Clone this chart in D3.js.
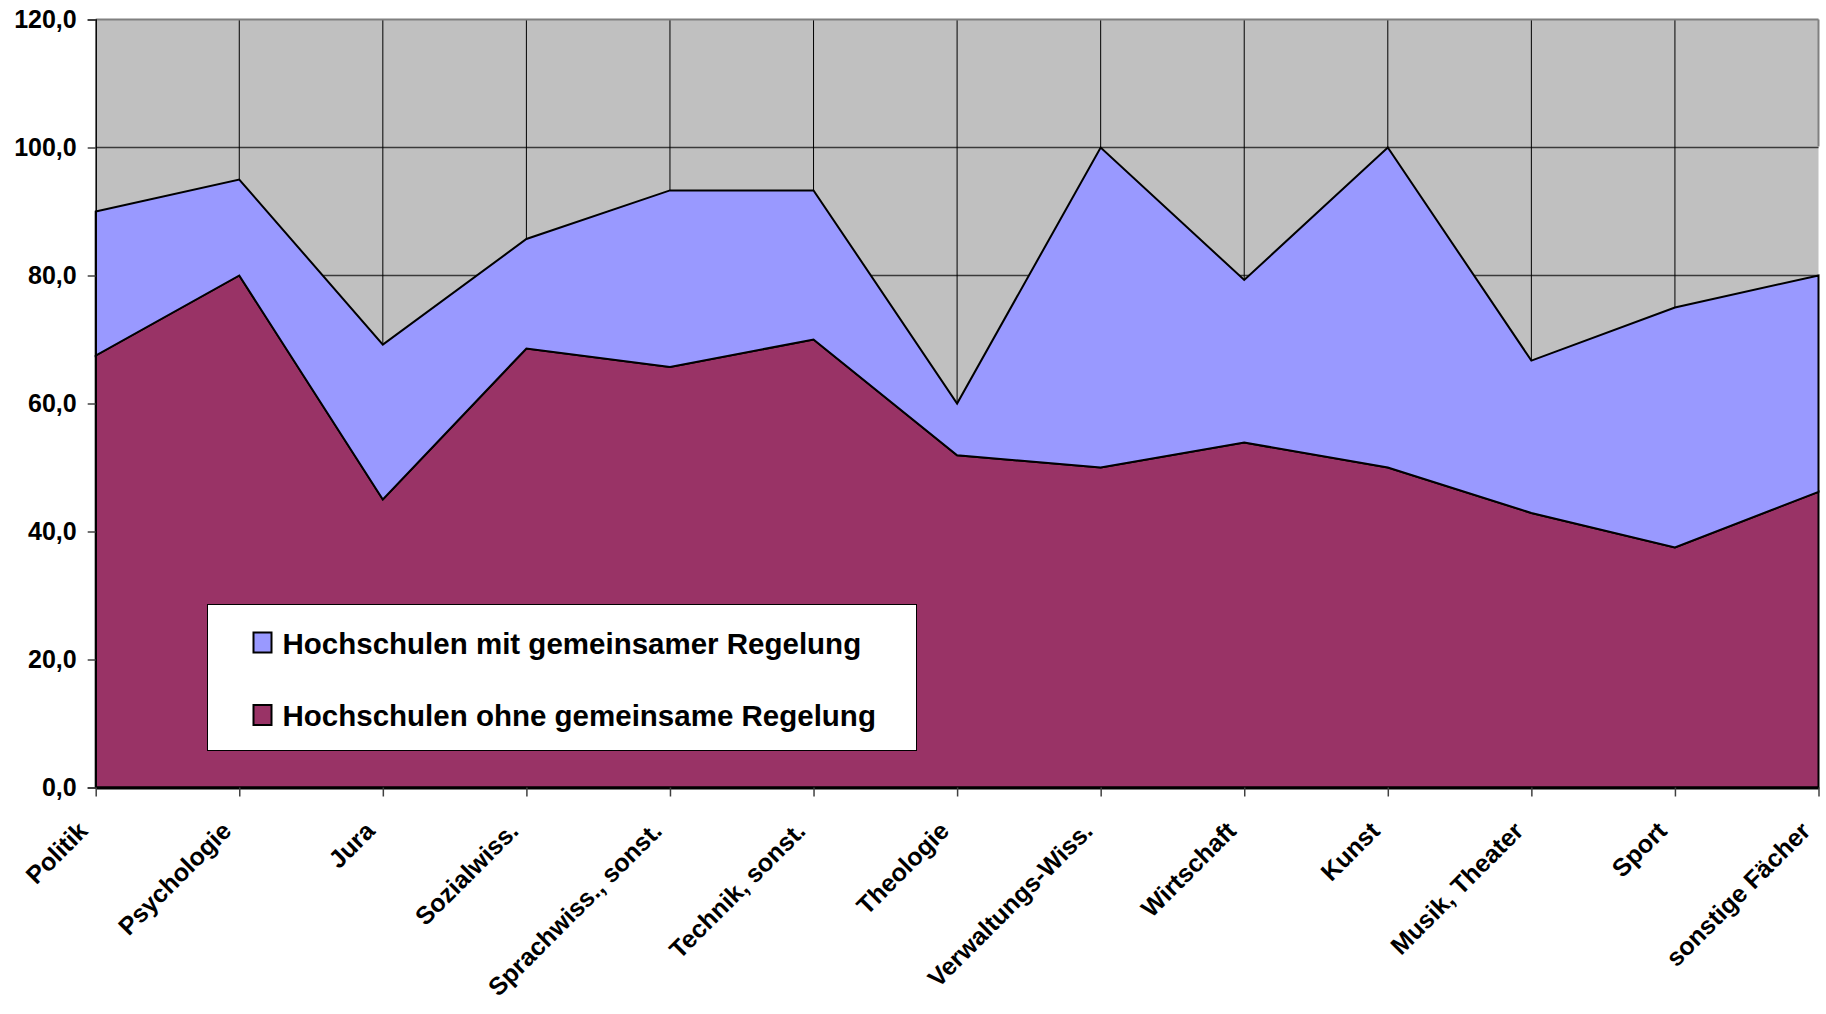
<!DOCTYPE html>
<html>
<head>
<meta charset="utf-8">
<script src="https://cdn.jsdelivr.net/npm/d3@7"></script>
<style>
    body { margin: 0; background: #fff; }
    text { font-family: "Liberation Sans", Arial, sans-serif; font-weight: bold; }
</style>
</head>
<body>
<div id="chart"></div>
<script>
// DATA
let categories = ["Politik", "Psychologie", "Jura", "Sozialwiss.", "Sprachwiss., sonst.", "Technik, sonst.",
    "Theologie", "Verwaltungs-Wiss.", "Wirtschaft", "Kunst", "Musik, Theater", "Sport", "sonstige Fächer"];
let ohneValues = [67.5, 80.0, 45.0, 68.6, 65.7, 70.0, 51.9, 50.0, 53.9, 50.0, 42.9, 37.5, 46.2];
let mitValues = [22.5, 15.0, 24.2, 17.1, 27.6, 23.3, 8.1, 50.0, 25.4, 50.0, 23.8, 37.5, 33.8];
let seriesNames = ["Hochschulen ohne gemeinsame Regelung", "Hochschulen mit gemeinsamer Regelung"];
let yTicks = [0, 20, 40, 60, 80, 100, 120];

// PLOTTING VARIABLES
let width = 1826,
    height = 1014;
let margin = {top: 19.5, right: 7.5, bottom: 226.5, left: 95.7};
let colors = {ohne: '#993366', mit: '#9999ff', plot: '#c0c0c0'};

let table = categories.map((c, i) => ({cat: c, ohne: ohneValues[i], mit: mitValues[i]}));

let svg = d3.select('#chart')
    .append('svg')
    .attr('width', width)
    .attr('height', height);

let x = d3.scalePoint()
    .domain(categories)
    .range([margin.left, width - margin.right]);

let y = d3.scaleLinear()
    .domain([0, 120])
    .range([height - margin.bottom, margin.top]);

let de = d3.formatLocale({decimal: ',', thousands: '.', grouping: [3], currency: ['', ' €']});
let fmt = de.format('.1f');

// plot background
svg.append('rect')
    .attr('x', x.range()[0])
    .attr('y', y(120))
    .attr('width', x.range()[1] - x.range()[0])
    .attr('height', y(0) - y(120))
    .attr('fill', colors.plot);

// gridlines
svg.append('g')
    .selectAll('line')
    .data(yTicks.filter(d => d > 0 && d < 120))
    .enter()
    .append('line')
    .attr('x1', x.range()[0])
    .attr('x2', x.range()[1])
    .attr('y1', d => y(d))
    .attr('y2', d => y(d))
    .attr('stroke', '#3a3a3a')
    .attr('stroke-width', 1.5);

svg.append('g')
    .selectAll('line')
    .data(categories.slice(1, -1))
    .enter()
    .append('line')
    .attr('x1', d => x(d))
    .attr('x2', d => x(d))
    .attr('y1', y(120))
    .attr('y2', y(0))
    .attr('stroke', '#000')
    .attr('stroke-width', 1);

// stacked areas
let stack = d3.stack().keys(['ohne', 'mit']);
let layers = stack(table);

let area = d3.area()
    .x(d => x(d.data.cat))
    .y0(d => y(d[0]))
    .y1(d => y(d[1]));

svg.append('g')
    .selectAll('path')
    .data(layers)
    .enter()
    .append('path')
    .attr('d', d => area(d) + 'Z')
    .attr('fill', d => colors[d.key])
    .attr('stroke', '#000')
    .attr('stroke-width', 2)
    .attr('stroke-linejoin', 'miter');

// plot frame (top and right)
svg.append('line')
    .attr('x1', x.range()[0]).attr('x2', x.range()[1])
    .attr('y1', y(120)).attr('y2', y(120))
    .attr('stroke', '#808080').attr('stroke-width', 2);

svg.append('line')
    .attr('x1', x.range()[1]).attr('x2', x.range()[1])
    .attr('y1', y(120)).attr('y2', y(d3.max(table, d => d.ohne + d.mit)) - 1)
    .attr('stroke', '#808080').attr('stroke-width', 2);

// y axis
let yAxis = svg.append('g')
    .attr('transform', `translate(${margin.left},0)`)
    .call(d3.axisLeft(y).tickValues(yTicks).tickFormat(fmt).tickSize(8).tickPadding(11));

yAxis.select('.domain').attr('stroke', '#000').attr('stroke-width', 1.5);
yAxis.selectAll('.tick line').attr('stroke', '#404040').attr('stroke-width', 1.5);
yAxis.selectAll('.tick text')
    .attr('fill', '#000')
    .style('font-size', '25px')
    .attr('dy', '0.33em');

// x axis
let xAxis = svg.append('g')
    .attr('transform', `translate(0,${y(0)})`)
    .call(d3.axisBottom(x).tickSize(9).tickSizeOuter(0));

xAxis.select('.domain').attr('stroke', '#000').attr('stroke-width', 3);
xAxis.selectAll('.tick line').attr('stroke', '#404040').attr('stroke-width', 1.5);
xAxis.selectAll('.tick text')
    .attr('fill', '#000')
    .style('font-size', '25px')
    .attr('text-anchor', 'end')
    .attr('x', 0)
    .attr('y', 0)
    .attr('dy', 0)
    .attr('transform', 'translate(-7,45) rotate(-45)');

// legend
let legend = svg.append('g')
    .attr('transform', 'translate(207.5,604.5)');

legend.append('rect')
    .attr('width', 709)
    .attr('height', 146)
    .attr('fill', '#fff')
    .attr('stroke', '#000')
    .attr('stroke-width', 1);

let legendItems = [
    {name: seriesNames[1], key: 'mit'},
    {name: seriesNames[0], key: 'ohne'}
];

let items = legend.selectAll('.legend-item')
    .data(legendItems)
    .enter()
    .append('g')
    .attr('class', 'legend-item')
    .attr('transform', (d, i) => `translate(0,${i * 72.5})`);

items.append('rect')
    .attr('x', 46)
    .attr('y', 28)
    .attr('width', 18)
    .attr('height', 20)
    .attr('fill', d => colors[d.key])
    .attr('stroke', '#000')
    .attr('stroke-width', 2);

items.append('text')
    .attr('x', 75)
    .attr('y', 49)
    .style('font-size', '29.5px')
    .attr('fill', '#000')
    .text(d => d.name);
</script>
</body>
</html>
